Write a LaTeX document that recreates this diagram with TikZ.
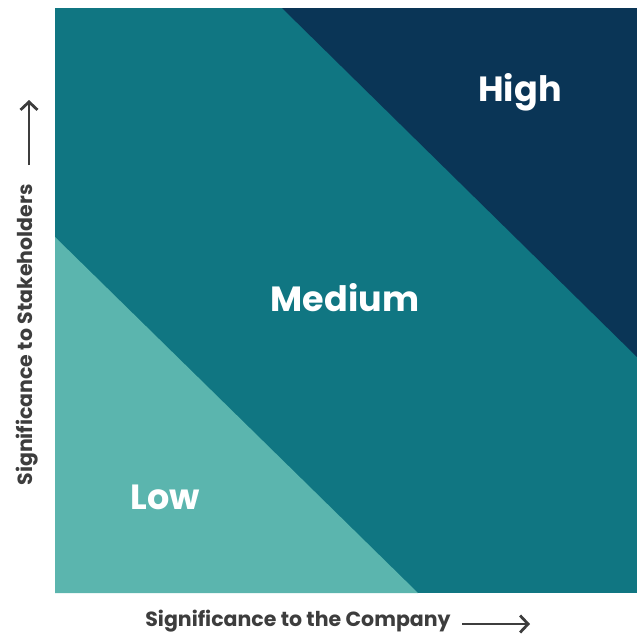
\documentclass[tikz,border=0pt]{standalone}
\usepackage{fontspec}
\setmainfont{Poppins}
\usetikzlibrary{positioning}
\usetikzlibrary{arrows.meta}
\definecolor{lowc}{HTML}{5BB5AE}
\definecolor{medc}{HTML}{107682}
\definecolor{highc}{HTML}{0A3556}
\definecolor{axc}{HTML}{3D3D3D}

\begin{document}
\begin{tikzpicture}[x=1pt,y=-1pt,>={Straight Barb[length=8pt,width=17pt]},
                    semithick]
  \tikzstyle{zone}=[text=white,font=\fontsize{35}{35}\selectfont\bfseries]
  \tikzstyle{axis}=[text=axc,font=\fontsize{20.5}{20.5}\selectfont\bfseries,inner sep=0pt]
  \tikzstyle{pointer}=[draw=axc,line width=2.8pt,->]
  \useasboundingbox (0,0) rectangle (637,637);

  \fill[medc] (55,8) rectangle (637,593);
  \fill[lowc] (55,237) -- (55,593) -- (418,593) -- cycle;
  \fill[highc] (282,8) -- (637,8) -- (637,357) -- cycle;

  \node[zone] (H1) at (520,92) {High};
  \node[zone] (M1) at (345,298) {Medium};
  \node[zone] (L1) at (165,497) {Low};

  \node[axis]           (X1) at (298,621) {Significance to the Company};
  \coordinate           (X0) at (462,624);
  \coordinate           (X2) at (530,624);
  \node[axis,rotate=90] (Y1) at (27,335) {Significance to Stakeholders};
  \coordinate           (Y0) at (29,165);
  \coordinate           (Y2) at (29,100);
  \draw[pointer] (X0) -- (X2);
  \draw[pointer] (Y0) -- (Y2);
\end{tikzpicture}
\end{document}
